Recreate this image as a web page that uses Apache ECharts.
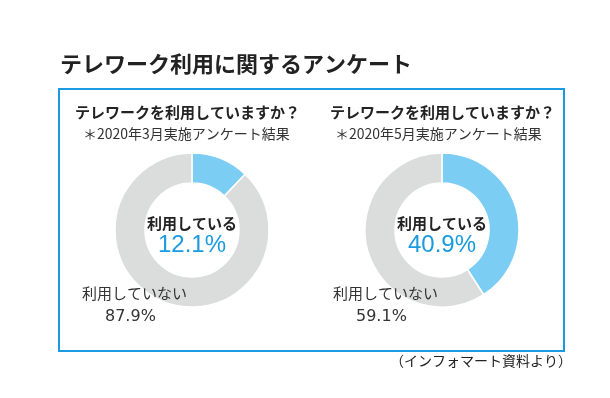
<!DOCTYPE html>
<html>
<head>
<meta charset="utf-8">
<script src="https://cdn.jsdelivr.net/npm/echarts@6/dist/echarts.min.js"></script>
<style>
  html, body { margin: 0; padding: 0; background: #fff; }
  #main { width: 610px; height: 398px; }
</style>
</head>
<body>
<div id="main"></div>
<script>
const surveyNames = ['＊2020年3月実施アンケート結果', '＊2020年5月実施アンケート結果']
const sliceNames = ['利用している', '利用していない']
const usingValues = [12.1, 40.9]
const notUsingValues = [87.9, 59.1]

const question = 'テレワークを利用していますか？'
const mainTitle = 'テレワーク利用に関するアンケート'
const sourceNote = '（インフォマート資料より）'

const FONT = '"Noto Sans CJK JP", "Noto Sans", sans-serif'
const BLUE = '#1a9be0'
const LIGHT_BLUE = '#7ccdf3'
const GRAY = '#dbdcdc'

const chart = echarts.init(document.getElementById('main'), null, { renderer: 'canvas' })

// donut centres
const centers = [[192, 230], [442, 230]]
const headX = [75, 330]
const subX = [83, 335]
const outX = [82, 333]

const titles = [
  {
    text: mainTitle,
    left: 60,
    top: 53,
    padding: 0,
    textStyle: { fontFamily: FONT, fontSize: 22, fontWeight: 'bold', color: '#222' }
  },
  {
    text: sourceNote,
    right: 38,
    top: 354,
    padding: 0,
    textStyle: { fontFamily: FONT, fontSize: 14, fontWeight: 'normal', color: '#222' }
  }
]

const series = []

surveyNames.forEach((sub, i) => {
  const [cx, cy] = centers[i]
  titles.push({
    text: question,
    left: headX[i],
    top: 105,
    padding: 0,
    textStyle: { fontFamily: FONT, fontSize: 15, fontWeight: 'bold', color: '#222' }
  })
  titles.push({
    text: sub,
    left: subX[i],
    top: 127,
    padding: 0,
    textStyle: { fontFamily: FONT, fontSize: 14, fontWeight: 'normal', color: '#333' }
  })
  titles.push({
    text: sliceNames[0],
    left: cx,
    top: cy - 14,
    padding: 0,
    textAlign: 'center',
    textStyle: { fontFamily: FONT, fontSize: 15, fontWeight: 'bold', color: '#222' }
  })
  titles.push({
    text: usingValues[i].toFixed(1) + '%',
    left: cx,
    top: cy + 3,
    padding: 0,
    textAlign: 'center',
    textStyle: { fontFamily: 'Liberation Sans, Arial, sans-serif', fontSize: 24, fontWeight: 'normal', color: BLUE }
  })
  titles.push({
    text: sliceNames[1],
    left: outX[i],
    top: 286,
    padding: 0,
    textStyle: { fontFamily: FONT, fontSize: 15, fontWeight: 'normal', color: '#333' }
  })
  titles.push({
    text: notUsingValues[i].toFixed(1) + '%',
    left: outX[i] + 23,
    top: 309,
    padding: 0,
    textStyle: { fontFamily: 'DejaVu Sans, sans-serif', fontSize: 16, fontWeight: 'normal', color: '#333' }
  })

  series.push({
    type: 'pie',
    center: [cx, cy],
    radius: [47, 77],
    startAngle: 90,
    clockwise: true,
    silent: true,
    animation: false,
    label: { show: false },
    labelLine: { show: false },
    itemStyle: { borderColor: '#fff', borderWidth: 1.5 },
    data: [
      { name: sliceNames[0], value: usingValues[i], itemStyle: { color: LIGHT_BLUE } },
      { name: sliceNames[1], value: notUsingValues[i], itemStyle: { color: GRAY } }
    ]
  })
})

chart.setOption({
  backgroundColor: '#fff',
  animation: false,
  title: titles,
  graphic: [
    {
      type: 'rect',
      shape: { x: 59, y: 89, width: 505, height: 262 },
      style: { fill: 'none', stroke: BLUE, lineWidth: 2 },
      z: 0
    }
  ],
  series
})
</script>
</body>
</html>
